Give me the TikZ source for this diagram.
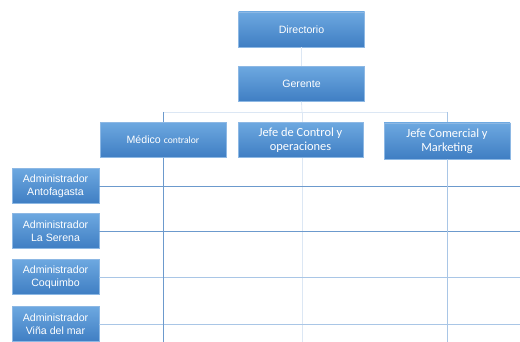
\documentclass[tikz,border=0pt]{standalone}
\usepackage{fontspec}
\setmainfont{Liberation Sans}
\newfontfamily\calfont{Carlito}
\definecolor{boxtop}{HTML}{6DA8E0}
\definecolor{boxbot}{HTML}{3F7EC3}
\definecolor{boxline}{HTML}{8DB8E4}
\definecolor{lnDark}{HTML}{6C9ACD}
\definecolor{lnMid}{HTML}{A9C6E6}
\definecolor{lnPale}{HTML}{DCE7F4}
\tikzset{
  orgbox/.style={rectangle, top color=boxtop, bottom color=boxbot, draw=boxline, line width=0.5pt,
    text=white, align=center, inner sep=1pt, font=\fontsize{10.6}{12.8}\selectfont},
  calbox/.style={font=\calfont\fontsize{12.4}{14}\selectfont},
  bigbox/.style={orgbox, minimum width=126pt, minimum height=35pt},
  adminbox/.style={orgbox, minimum width=87pt, minimum height=35pt},
  darkline/.style={draw=lnDark, line width=0.8pt},
  midline/.style={draw=lnMid, line width=0.8pt},
  paleline/.style={draw=lnPale, line width=0.8pt}
}
\begin{document}
\begin{tikzpicture}[x=1pt, y=-1pt]
\useasboundingbox (0,0) rectangle (520,342);
% coordinates
\coordinate (barL) at (163,112);
\coordinate (barM) at (302,112);
\coordinate (barR) at (447,112);
\coordinate (endL) at (163,342);
\coordinate (endM) at (302,342);
\coordinate (endR) at (447,342);
\coordinate (e1) at (520,186);
\coordinate (e2) at (520,231);
\coordinate (e3) at (520,277);
\coordinate (e4) at (520,324);
% nodes
\node[bigbox] (dir) at (301.5,29.5) {Directorio};
\node[bigbox] (ger) at (301.5,84) {Gerente};
% connectors behind boxes
\draw[paleline] (dir) -- (ger);
\draw[paleline] (ger.south) -- (barM);
\draw[paleline] (barL) -- (barR);
\draw[darkline] (barL) -- (endL);
\draw[paleline] (barM) -- (endM);
\draw[midline] (barR) -- (endR);
% middle-level boxes
\node[bigbox] (med) at (163,140) {Médico {\calfont\fontsize{9.6}{11}\selectfont contralor}};
\node[bigbox, calbox, minimum width=125pt] (jcon) at (300.5,140) {Jefe de Control y\\operaciones};
\node[bigbox, calbox, minimum height=36pt] (jcom) at (447,141) {Jefe Comercial y\\Marketing};
% admin boxes
\node[adminbox] (a1) at (55.5,186) {Administrador\\Antofagasta};
\node[adminbox] (a2) at (55.5,231) {Administrador\\La Serena};
\node[adminbox] (a3) at (55.5,277) {Administrador\\Coquimbo};
\node[adminbox] (a4) at (55.5,324) {Administrador\\Viña del mar};
\draw[darkline] (a1.east) -- (e1);
\draw[darkline] (a2.east) -- (e2);
\draw[midline] (a3.east) -- (e3);
\draw[midline] (a4.east) -- (e4);
% redraw verticals through the grid below boxes
\draw[darkline] (med.south) -- (endL);
\draw[midline] (jcom.south) -- (endR);
\end{tikzpicture}
\end{document}
